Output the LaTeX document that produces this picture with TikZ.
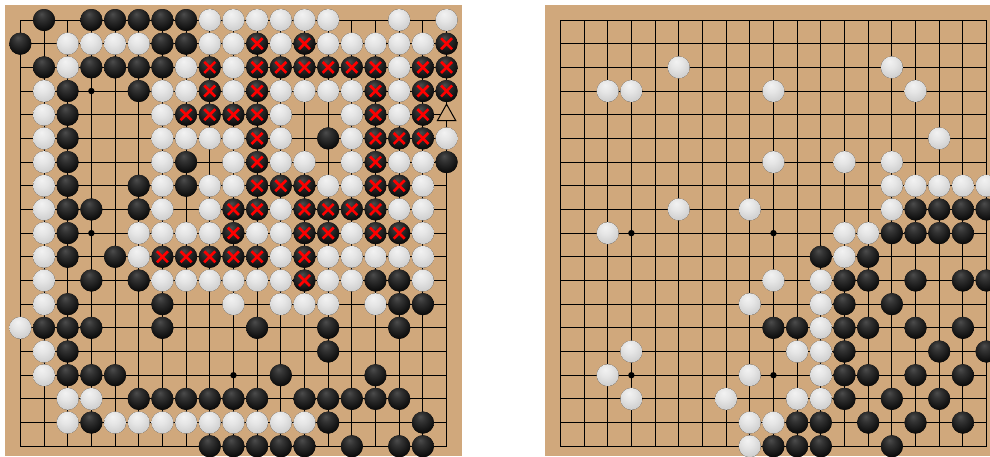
\documentclass[tikz,border=0pt]{standalone}
\usepackage{tikz}
\definecolor{board}{RGB}{208,168,124}
\pgfdeclareradialshading{blackstone}{\pgfpoint{-6bp}{14bp}}{color(0bp)=(black!70); color(10bp)=(black!80); color(32bp)=(black!97); color(60bp)=(black)}
\pgfdeclareradialshading{whitestone}{\pgfpoint{-6bp}{14bp}}{color(0bp)=(black!5); color(14bp)=(black!10); color(40bp)=(black!24); color(64bp)=(black!34)}
\tikzset{
  gridline/.style={line width=0.9pt, draw=black},
  bst/.style={shading=blackstone},
  wst/.style={shading=whitestone},
  xmark/.style={draw=red, line width=2.6pt},
  hoshidot/.style={fill=black},
  trimark/.style={draw=black, fill=board, line width=1pt},
  goboard/.pic={
    \foreach \i in {0,...,18} {
      \draw[gridline] (\i,0) -- (\i,18);
      \draw[gridline] (0,\i) -- (18,\i);
    }
    \foreach \a in {3,9,15} {
      \foreach \b in {3,9,15} {
        \fill[hoshidot] (\a,\b) circle[radius=3.2pt];
      }
    }
  }
}
\begin{document}
\begin{tikzpicture}[x=1pt,y=-1pt]
\useasboundingbox (0,0) rectangle (990,456);
\clip (0,0) rectangle (990,456);
\fill[white] (0,0) rectangle (990,456);
\fill[board] (5,5) rectangle (462,456);
\fill[board] (545,5) rectangle (990,456);
% ---------------- left board
\begin{scope}[shift={(20.33,20)}, x=23.68pt, y=-23.68pt]
  \pic {goboard};
  % black stones
  \foreach \r/\cl in {0/{1,3,4,5,6,7}, 1/{0,6,7}, 2/{1,3,4,5,6}, 3/{2,5}, 4/{2}, 5/{2,13}, 6/{2,7,18}, 7/{2,5,7}, 8/{2,3,5}, 9/{2}, 10/{2,4}, 11/{3,5,15,16}, 12/{2,6,16,17}, 13/{1,2,3,6,10,13,16}, 14/{2,13}, 15/{2,3,4,11,15}, 16/{5,6,7,8,9,10,12,13,14,15,16}, 17/{3,13,17}, 18/{8,9,10,11,12,14,16,17}} {
    \foreach \c in \cl { \fill[bst] (\c,\r) circle[radius=11pt]; }
  }
  % black stones marked with a red cross
  \foreach \r/\cl in {1/{10,12,18}, 2/{8,10,11,12,13,14,15,17,18}, 3/{8,10,15,17,18}, 4/{7,8,9,10,15,17}, 5/{10,15,16,17}, 6/{10,15}, 7/{10,11,12,15,16}, 8/{9,10,12,13,14,15}, 9/{9,12,13,15,16}, 10/{6,7,8,9,10,12}, 11/{12}} {
    \foreach \c in \cl {
      \fill[bst] (\c,\r) circle[radius=11pt];
      \draw[xmark] (\c,\r) ++(-5.5pt,-5.5pt) -- ++(11pt,11pt);
      \draw[xmark] (\c,\r) ++(-5.5pt,5.5pt) -- ++(11pt,-11pt);
    }
  }
  % white stones
  \foreach \r/\cl in {0/{8,9,10,11,12,13,16,18}, 1/{2,3,4,5,8,9,11,13,14,15,16,17}, 2/{2,7,9,16}, 3/{1,6,7,9,11,12,13,14,16}, 4/{1,6,11,14,16}, 5/{1,6,7,8,9,11,14,18}, 6/{1,6,9,11,12,14,16,17}, 7/{1,6,8,9,13,14,17}, 8/{1,6,8,11,16,17}, 9/{1,5,6,7,8,10,11,14,17}, 10/{1,5,11,13,14,15,16,17}, 11/{1,6,7,8,9,10,11,13,14,17}, 12/{1,9,11,12,13,15}, 13/{0}, 14/{1}, 15/{1}, 16/{2,3}, 17/{2,4,5,6,7,8,9,10,11,12}} {
    \foreach \c in \cl { \fill[wst] (\c,\r) circle[radius=11pt]; }
  }
  % triangle mark
  \coordinate (tri) at (18,4);
  \draw[trimark] (tri) ++(0pt,10.5pt) -- ++(9.2pt,-16.4pt) -- ++(-18.4pt,0pt) -- cycle;
\end{scope}
% ---------------- right board
\begin{scope}[shift={(560.33,20)}, x=23.68pt, y=-23.68pt]
  \pic {goboard};
  \foreach \r/\cl in {8/{15,16,17,18}, 9/{14,15,16,17}, 10/{11,13}, 11/{12,13,15,17,18}, 12/{12,14}, 13/{9,10,12,13,15,17}, 14/{12,16,18}, 15/{12,13,15,17}, 16/{12,14,16}, 17/{10,11,13,15,17}, 18/{9,10,11,14}} {
    \foreach \c in \cl { \fill[bst] (\c,\r) circle[radius=11pt]; }
  }
  \foreach \r/\cl in {2/{5,14}, 3/{2,3,9,15}, 5/{16}, 6/{9,12,14}, 7/{14,15,16,17,18}, 8/{5,8,14}, 9/{2,12,13}, 10/{12}, 11/{9,11}, 12/{8,11}, 13/{11}, 14/{3,10,11}, 15/{2,8,11}, 16/{3,7,10,11}, 17/{8,9}, 18/{8}} {
    \foreach \c in \cl { \fill[wst] (\c,\r) circle[radius=11pt]; }
  }
\end{scope}
\end{tikzpicture}
\end{document}
